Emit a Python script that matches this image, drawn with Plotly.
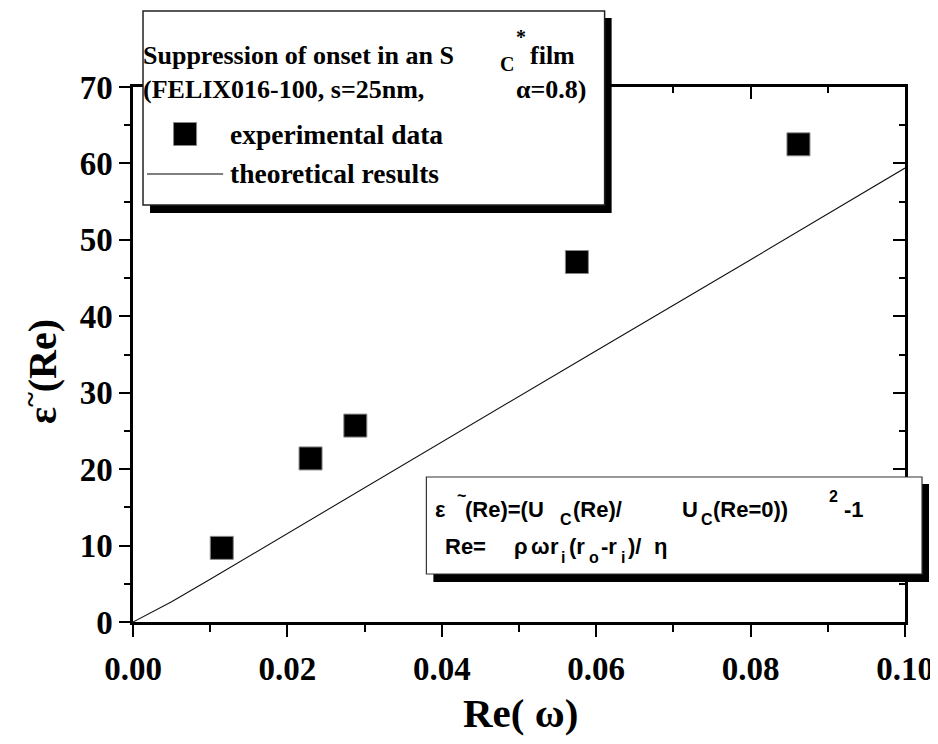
import plotly.graph_objects as go

# ---- data ----
exp_re = [0.0115, 0.0230, 0.0288, 0.0575, 0.0862]
exp_eps = [9.7, 21.4, 25.7, 47.1, 62.5]
theo_re = [0.0, 0.005, 0.01, 0.02, 0.04, 0.06, 0.08, 0.10]
theo_eps = [0.0, 2.65, 5.6, 11.6, 23.5, 35.5, 47.4, 59.4]
x_ticks = [0.00, 0.02, 0.04, 0.06, 0.08, 0.10]
x_ticklabels = ["0.00", "0.02", "0.04", "0.06", "0.08", "0.10"]
y_ticks = [0, 10, 20, 30, 40, 50, 60, 70]

W, H = 938, 744
# target plot-area edges on screen
L, R, T, B = 133, 904, 86, 621


def px(x):
    return (x - L) / (R - L)


def py(y):
    return (B - y) / (B - T)


SERIF = "Liberation Serif"
SANS = "Liberation Sans"

fig = go.Figure()
fig.add_trace(go.Scatter(x=theo_re, y=theo_eps, mode="lines",
                         line=dict(color="#111111", width=1.1),
                         name="theoretical results", showlegend=False))
fig.add_trace(go.Scatter(x=exp_re, y=exp_eps, mode="markers",
                         marker=dict(symbol="square", size=23, color="black",
                                     line=dict(color="#888888", width=1)),
                         name="experimental data", showlegend=False))
# empty trace to realise the mirrored top/right axes
fig.add_trace(go.Scatter(x=[], y=[], xaxis="x2", yaxis="y2", showlegend=False))

tickfont = dict(family=SERIF, size=33, color="black", weight="bold")

fig.update_layout(
    width=W, height=H,
    margin=dict(l=125, r=36, t=79, b=130),
    paper_bgcolor="white", plot_bgcolor="white",
    showlegend=False,
    xaxis=dict(range=[0, 0.1], tickvals=x_ticks, ticktext=x_ticklabels,
               ticks="outside", ticklen=12, tickwidth=2, tickcolor="black",
               showline=True, linewidth=2.5, linecolor="black",
               showgrid=False, zeroline=False, tickfont=tickfont,
               ticklabelstandoff=4,
               minor=dict(tickvals=[0.01, 0.03, 0.05, 0.07, 0.09], ticks="outside",
                          ticklen=7, tickwidth=2, tickcolor="black", showgrid=False)),
    yaxis=dict(range=[0, 70], tickvals=y_ticks,
               ticks="outside", ticklen=11, tickwidth=2, tickcolor="black",
               showline=True, linewidth=2.5, linecolor="black",
               showgrid=False, zeroline=False, tickfont=tickfont,
               ticklabelstandoff=0,
               minor=dict(tickvals=[5, 15, 25, 35, 45, 55, 65], ticks="outside",
                          ticklen=6, tickwidth=2, tickcolor="black", showgrid=False)),
    xaxis2=dict(range=[0, 0.1], overlaying="x", side="top", tickvals=x_ticks,
                ticks="inside", ticklen=12, tickwidth=2, tickcolor="black",
                showline=True, linewidth=2.5, linecolor="black",
                showticklabels=False, showgrid=False, zeroline=False,
                minor=dict(tickvals=[0.01, 0.03, 0.05, 0.07, 0.09], ticks="inside",
                           ticklen=6, tickwidth=2, tickcolor="black", showgrid=False)),
    yaxis2=dict(range=[0, 70], overlaying="y", side="right", tickvals=y_ticks,
                ticks="inside", ticklen=12, tickwidth=2, tickcolor="black",
                showline=True, linewidth=2.5, linecolor="black",
                showticklabels=False, showgrid=False, zeroline=False,
                minor=dict(tickvals=[5, 15, 25, 35, 45, 55, 65], ticks="inside",
                           ticklen=6, tickwidth=2, tickcolor="black", showgrid=False)),
)

shapes = []
# legend box with shadow
shapes.append(dict(type="rect", xref="paper", yref="paper", layer="above",
                   x0=px(150), x1=px(611), y0=py(212), y1=py(17),
                   fillcolor="black", line=dict(width=0)))
shapes.append(dict(type="rect", xref="paper", yref="paper", layer="above",
                   x0=px(143), x1=px(604), y0=py(204), y1=py(10),
                   fillcolor="white", line=dict(color="#222222", width=1.5)))
# legend symbols
shapes.append(dict(type="rect", xref="paper", yref="paper", layer="above",
                   x0=px(173.5), x1=px(196.5), y0=py(144.5), y1=py(121.5),
                   fillcolor="black", line=dict(color="#888888", width=1)))
shapes.append(dict(type="line", xref="paper", yref="paper", layer="above",
                   x0=px(147), x1=px(223), y0=py(173), y1=py(173),
                   line=dict(color="#555555", width=1.5)))
# formula box with shadow
shapes.append(dict(type="rect", xref="paper", yref="paper", layer="above",
                   x0=px(433), x1=px(928), y0=py(581), y1=py(483),
                   fillcolor="black", line=dict(width=0)))
shapes.append(dict(type="rect", xref="paper", yref="paper", layer="above",
                   x0=px(426), x1=px(921), y0=py(573), y1=py(476),
                   fillcolor="white", line=dict(color="#333333", width=1.2)))
fig.update_layout(shapes=shapes)

ann = []


def txt(x, y, s, size, family=SERIF, xanchor="left", angle=0):
    ann.append(dict(x=px(x), y=py(y), xref="paper", yref="paper", text=s,
                    showarrow=False, xanchor=xanchor, yanchor="middle",
                    textangle=angle, borderpad=0,
                    font=dict(family=family, size=size, color="black", weight="bold")))


txt(142, 55, "Suppression of onset in an S", 26)
txt(499, 63, "C", 20)
txt(515, 36, "*", 20)
txt(528, 55, "film", 26)
txt(142, 89, "(FELIX016-100, s=25nm,", 26)
txt(515, 89, "α=0.8)", 26)
txt(229, 133, "experimental data", 27.5)
txt(229, 173, "theoretical results", 27.5)

FF = 22
SF = 16
y1 = 508
txt(434, y1, "ε", FF, SANS)
txt(456, y1 - 14, "~", SF, SANS)
txt(464, y1, "(Re)=(U", FF, SANS)
txt(558, y1 + 10, "C", SF, SANS)
txt(571, y1, "(Re)/", FF, SANS)
txt(680, y1, "U", FF, SANS)
txt(699, y1 + 10, "C", SF, SANS)
txt(711, y1, "(Re=0))", FF, SANS)
txt(827, y1 - 13, "2", SF, SANS)
txt(842, y1, "-1", FF, SANS)
y2 = 545
txt(444, y2, "Re=", FF, SANS)
txt(513, y2, "ρ", FF, SANS)
txt(529, y2, "ω", FF, SANS)
txt(548, y2, "r", FF, SANS)
txt(559, y2 + 11, "i", SF, SANS)
txt(567, y2, "(r", FF, SANS)
txt(587, y2 + 11, "o", SF, SANS)
txt(599, y2, "-r", FF, SANS)
txt(619, y2 + 11, "i", SF, SANS)
txt(626, y2, ")/", FF, SANS)
txt(652, y2, "η", FF, SANS)

# axis titles
txt(520, 712, "Re( ω)", 41, xanchor="center")
txt(40, 370, "ε<sup>~</sup>(Re)", 40, xanchor="center", angle=-90)

fig.update_layout(annotations=ann)

fig.write_html("out.html")
